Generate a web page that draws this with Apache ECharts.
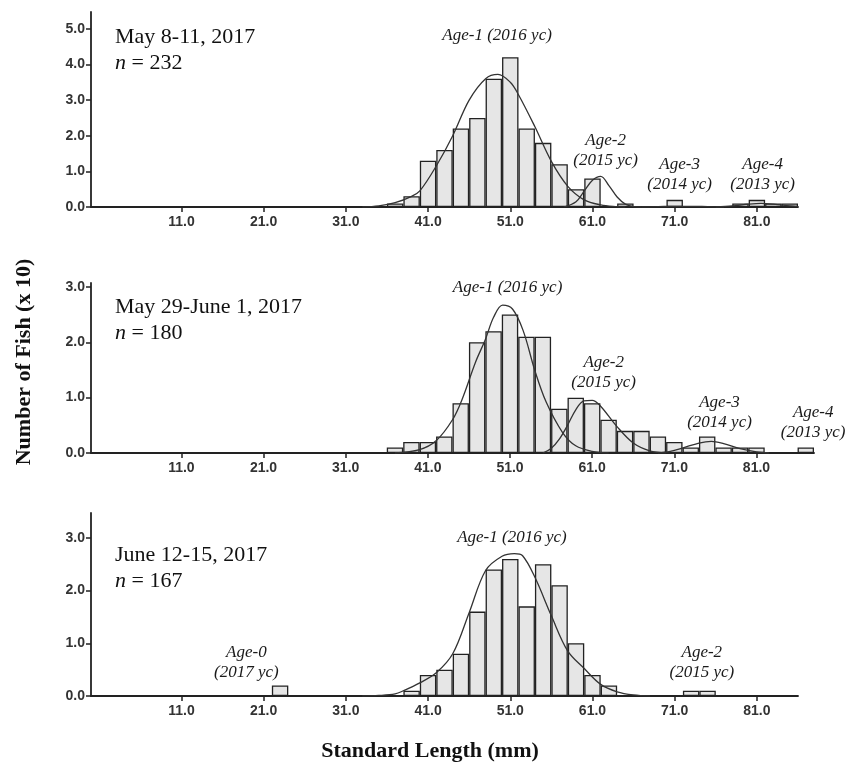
<!DOCTYPE html>
<html>
<head>
<meta charset="utf-8">
<script src="https://cdn.jsdelivr.net/npm/echarts@6/dist/echarts.min.js"></script>
<style>
  html, body { margin: 0; padding: 0; background: #fff; }
  #chart { width: 860px; height: 773px; }
</style>
</head>
<body>
<div id="chart"></div>
<script>
// bin centres (mm, 2 mm bins) and counts (x 10)
const binsMay8 = [37, 39, 41, 43, 45, 47, 49, 51, 53, 55, 57, 59, 61, 65, 71, 79, 81, 83, 85]
const countsMay8 = [0.1, 0.3, 1.3, 1.6, 2.2, 2.5, 3.6, 4.2, 2.2, 1.8, 1.2, 0.5, 0.8, 0.1, 0.2, 0.1, 0.2, 0.1, 0.1]

const binsMay29 = [37, 39, 41, 43, 45, 47, 49, 51, 53, 55, 57, 59, 61, 63, 65, 67, 69, 71, 73, 75, 77, 79, 81, 87]
const countsMay29 = [0.1, 0.2, 0.2, 0.3, 0.9, 2.0, 2.2, 2.5, 2.1, 2.1, 0.8, 1.0, 0.9, 0.6, 0.4, 0.4, 0.3, 0.2, 0.1, 0.3, 0.1, 0.1, 0.1, 0.1]

const binsJune12 = [23, 39, 41, 43, 45, 47, 49, 51, 53, 55, 57, 59, 61, 63, 73, 75]
const countsJune12 = [0.2, 0.1, 0.4, 0.5, 0.8, 1.6, 2.4, 2.6, 1.7, 2.5, 2.1, 1.0, 0.4, 0.2, 0.1, 0.1]

// fitted age-class curves as [mm, value]
const may8Age1 = [[33, 0], [35, 0.03], [37, 0.12], [39, 0.3], [40, 0.45], [42, 1.15], [44, 2.0], [46, 3.0], [48, 3.6], [49.5, 3.72], [51, 3.5], [52, 3.15], [54, 2.25], [56, 1.28], [58, 0.58], [60, 0.2], [62, 0.06], [64, 0.01], [65, 0]]
const may8Age2 = [[57.5, 0], [59, 0.15], [60, 0.45], [61, 0.75], [62, 0.86], [63, 0.6], [64, 0.28], [65, 0.08], [66, 0.01], [67, 0]]
const may8Age3 = [[67, 0], [69, 0.01], [71, 0.02], [73, 0.02], [75, 0.01], [77, 0]]
const may8Age4 = [[76, 0], [78, 0.03], [80, 0.08], [81.5, 0.1], [83, 0.08], [85, 0.03], [86, 0.01]]

const may29Age1 = [[37, 0], [40, 0.06], [42, 0.22], [44, 0.6], [45.2, 0.98], [46.8, 1.64], [48, 2.05], [49, 2.45], [50.1, 2.67], [51.3, 2.6], [52.6, 2.21], [54, 1.5], [55.4, 0.92], [57.4, 0.37], [59, 0.13], [61, 0.03], [63, 0]]
const may29Age2 = [[55, 0], [56, 0.08], [57, 0.25], [58, 0.5], [59, 0.78], [60, 0.94], [61, 0.95], [62, 0.85], [64, 0.48], [66, 0.18], [68, 0.04], [70, 0]]
const may29Age3 = [[69, 0], [70.5, 0.03], [72, 0.09], [74, 0.18], [75.5, 0.21], [77, 0.17], [79, 0.08], [81, 0.02], [82.5, 0]]

const june12Age1 = [[33, 0], [35, 0.01], [37, 0.04], [38, 0.1], [40, 0.25], [42, 0.44], [44, 0.8], [46, 1.58], [48, 2.38], [50, 2.65], [51.5, 2.7], [52.5, 2.66], [54, 2.25], [56, 1.52], [58, 0.85], [60, 0.52], [62, 0.22], [64, 0.08], [66, 0.02], [68, 0]]

// tick labels
const xTicks = [11, 21, 31, 41, 51, 61, 71, 81]
const yTicksMay8 = [0, 1, 2, 3, 4, 5]
const yTicks = [0, 1, 2, 3]

// cohort labels, placed in data coordinates [mm, value]
const notesMay8 = [
  { name: 'Age-1 (2016 yc)', coord: [49.4, 4.82] },
  { name: 'Age-2\n(2015 yc)', coord: [62.6, 1.57] },
  { name: 'Age-3\n(2014 yc)', coord: [71.6, 0.91] },
  { name: 'Age-4\n(2013 yc)', coord: [81.7, 0.91] },
]
const notesMay29 = [
  { name: 'Age-1 (2016 yc)', coord: [50.7, 2.99] },
  { name: 'Age-2\n(2015 yc)', coord: [62.4, 1.45] },
  { name: 'Age-3\n(2014 yc)', coord: [76.5, 0.73] },
  { name: 'Age-4\n(2013 yc)', coord: [87.9, 0.55] },
]
const notesJune12 = [
  { name: 'Age-1 (2016 yc)', coord: [51.2, 3.0] },
  { name: 'Age-0\n(2017 yc)', coord: [18.9, 0.63] },
  { name: 'Age-2\n(2015 yc)', coord: [74.3, 0.63] },
]

const panels = [
  { bins: binsMay8, counts: countsMay8, curves: [may8Age1, may8Age2, may8Age3, may8Age4], notes: notesMay8,
    xMax: 86, yMax: 5.47, yTicks: yTicksMay8, grid: { left: 91, top: 12, width: 707, height: 195 },
    date: 'May 8-11, 2017', n: 232, textTop: 24 },
  { bins: binsMay29, counts: countsMay29, curves: [may29Age1, may29Age2, may29Age3], notes: notesMay29,
    xMax: 88, yMax: 3.07, yTicks: yTicks, grid: { left: 91, top: 283, width: 723, height: 170 },
    date: 'May 29-June 1, 2017', n: 180, textTop: 294 },
  { bins: binsJune12, counts: countsJune12, curves: [june12Age1], notes: notesJune12,
    xMax: 86, yMax: 3.47, yTicks: yTicks, grid: { left: 91, top: 513, width: 707, height: 183 },
    date: 'June 12-15, 2017', n: 167, textTop: 542 },
]

const serif = '"Liberation Serif", "Times New Roman", serif'
const sans = '"Liberation Sans", Arial, sans-serif'
const ink = '#222'

const grids = []
const xAxes = []
const yAxes = []
const series = []
const graphics = []

panels.forEach((p, i) => {
  grids.push(p.grid)
  xAxes.push({
    type: 'value', gridIndex: i, min: 0, max: p.xMax,
    axisLine: { show: true, onZero: false, lineStyle: { color: ink, width: 1.8 } },
    axisTick: { show: true, length: 5, customValues: xTicks, lineStyle: { color: ink, width: 1.5 } },
    axisLabel: { customValues: xTicks, formatter: (v) => v.toFixed(1), margin: 8,
      fontFamily: sans, fontSize: 14, fontWeight: 'bold', color: '#333' },
    splitLine: { show: false },
  })
  yAxes.push({
    type: 'value', gridIndex: i, min: 0, max: p.yMax,
    axisLine: { show: true, lineStyle: { color: ink, width: 1.8 } },
    axisTick: { show: true, length: 5, customValues: p.yTicks, lineStyle: { color: ink, width: 1.5 } },
    axisLabel: { customValues: p.yTicks, formatter: (v) => v.toFixed(1), margin: 6,
      fontFamily: sans, fontSize: 14, fontWeight: 'bold', color: '#333' },
    splitLine: { show: false },
  })
  series.push({
    type: 'bar', xAxisIndex: i, yAxisIndex: i,
    data: p.bins.map((b, k) => [b, p.counts[k]]),
    barWidth: '100%',
    itemStyle: { color: '#e6e6e6', borderColor: ink, borderWidth: 1.3 },
    z: 2,
    markPoint: {
      symbol: 'rect', symbolSize: 1,
      itemStyle: { color: 'rgba(0,0,0,0)' },
      label: { show: true, position: 'inside', formatter: '{b}', fontFamily: serif,
        fontStyle: 'italic', fontSize: 17, lineHeight: 20, color: '#1a1a1a' },
      data: p.notes,
    },
  })
  p.curves.forEach((c) => {
    series.push({
      type: 'line', xAxisIndex: i, yAxisIndex: i, data: c, smooth: 0.35,
      showSymbol: false, lineStyle: { color: '#333', width: 1.3 }, z: 3,
    })
  })
  graphics.push({
    type: 'text', left: 115, top: p.textTop,
    style: {
      text: p.date + '\n{i|n} = ' + p.n,
      font: '22px ' + serif, fill: '#111', lineHeight: 26,
      rich: { i: { fontStyle: 'italic', fontFamily: serif, fontSize: 22, fill: '#111' } },
    },
  })
})

graphics.push({
  type: 'text', left: 'center', top: 740,
  style: { text: 'Standard Length (mm)', font: 'bold 22px ' + serif, fill: '#111' },
})
graphics.push({
  type: 'text', x: 24, y: 362, rotation: Math.PI / 2,
  style: { text: 'Number of Fish (x 10)', font: 'bold 22px ' + serif, fill: '#111',
    align: 'center', verticalAlign: 'middle' },
  originX: 0, originY: 0,
})

const chart = echarts.init(document.getElementById('chart'), null, { renderer: 'canvas' })
chart.setOption({
  backgroundColor: '#fff',
  animation: false,
  grid: grids,
  xAxis: xAxes,
  yAxis: yAxes,
  series: series,
  graphic: graphics,
})
</script>
</body>
</html>
